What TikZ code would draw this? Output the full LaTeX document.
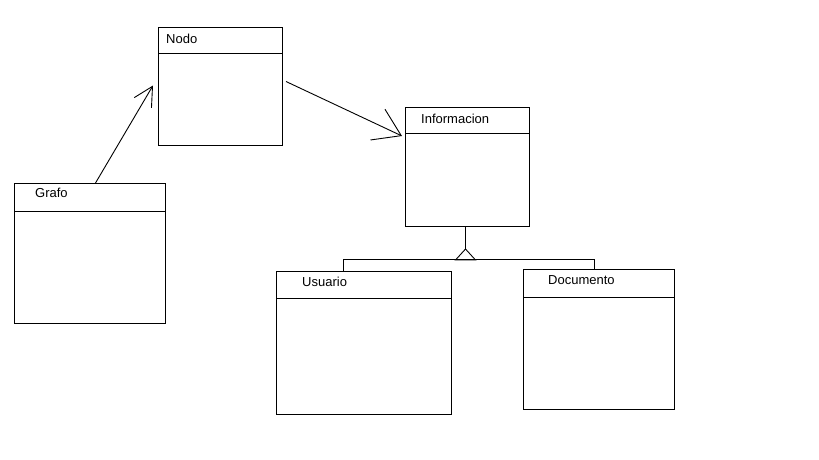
\documentclass[tikz,border=0pt]{standalone}
\usepackage{fontspec}
\setmainfont{Liberation Sans}
\usetikzlibrary{arrows.meta}

\tikzset{
	box/.style={draw, line width=1pt, inner sep=0pt, anchor=north west},
	lbl/.style={anchor=base west, inner sep=0pt, font=\fontsize{13}{15}\selectfont},
	link/.style={line width=0.9pt}
}

\begin{document}
\begin{tikzpicture}[x=1pt, y=-1pt]
	\useasboundingbox (0,0) rectangle (819,460);
	% classes
	\node[box, minimum width=124pt, minimum height=26pt] (nodohead) at (158,27) {};
	\node[box, minimum width=124pt, minimum height=92pt] (nodobody) at (158,53) {};
	\node[box, minimum width=124pt, minimum height=26pt] (infhead) at (405,107) {};
	\node[box, minimum width=124pt, minimum height=93pt] (infbody) at (405,133) {};
	\node[box, minimum width=151pt, minimum height=28pt] (grafohead) at (14,183) {};
	\node[box, minimum width=151pt, minimum height=112pt] (grafobody) at (14,211) {};
	\node[box, minimum width=175pt, minimum height=27pt] (usuhead) at (276,271) {};
	\node[box, minimum width=175pt, minimum height=116pt] (usubody) at (276,298) {};
	\node[box, minimum width=151pt, minimum height=28pt] (dochead) at (523,269) {};
	\node[box, minimum width=151pt, minimum height=112pt] (docbody) at (523,297) {};
	\node[lbl] at ([xshift=8pt,yshift=-17pt]nodohead.north west) {Nodo};
	\node[lbl] at ([xshift=16pt,yshift=-16pt]infhead.north west) {Informacion};
	\node[lbl] at ([xshift=21pt,yshift=-14pt]grafohead.north west) {Grafo};
	\node[lbl] at ([xshift=26pt,yshift=-15pt]usuhead.north west) {Usuario};
	\node[lbl] at ([xshift=25pt,yshift=-15pt]dochead.north west) {Documento};
	% associations
	\draw[link, -{Straight Barb[length=19pt,width=20pt]}] ([xshift=5.5pt]grafohead.north) -- ([xshift=-5pt,yshift=14pt]nodobody.west);
	\draw[link, -{Straight Barb[length=26pt,width=34pt]}] ([xshift=3pt,yshift=18pt]nodobody.east) -- ([xshift=-3pt,yshift=-2pt]infhead.south west);
	% generalization
	\coordinate (apex) at ([xshift=-2pt,yshift=-22pt]infbody.south);
	\coordinate (busl) at (343,259);
	\coordinate (busr) at (594,259);
	\draw[link] ([xshift=-2pt]infbody.south) -- (apex);
	\draw[link] (apex) -- ++(-10,11) -- ++(20,0) -- cycle;
	\draw[link] (usuhead.north -| busl) -- (busl) -- (busr) -- (dochead.north -| busr);
\end{tikzpicture}
\end{document}
